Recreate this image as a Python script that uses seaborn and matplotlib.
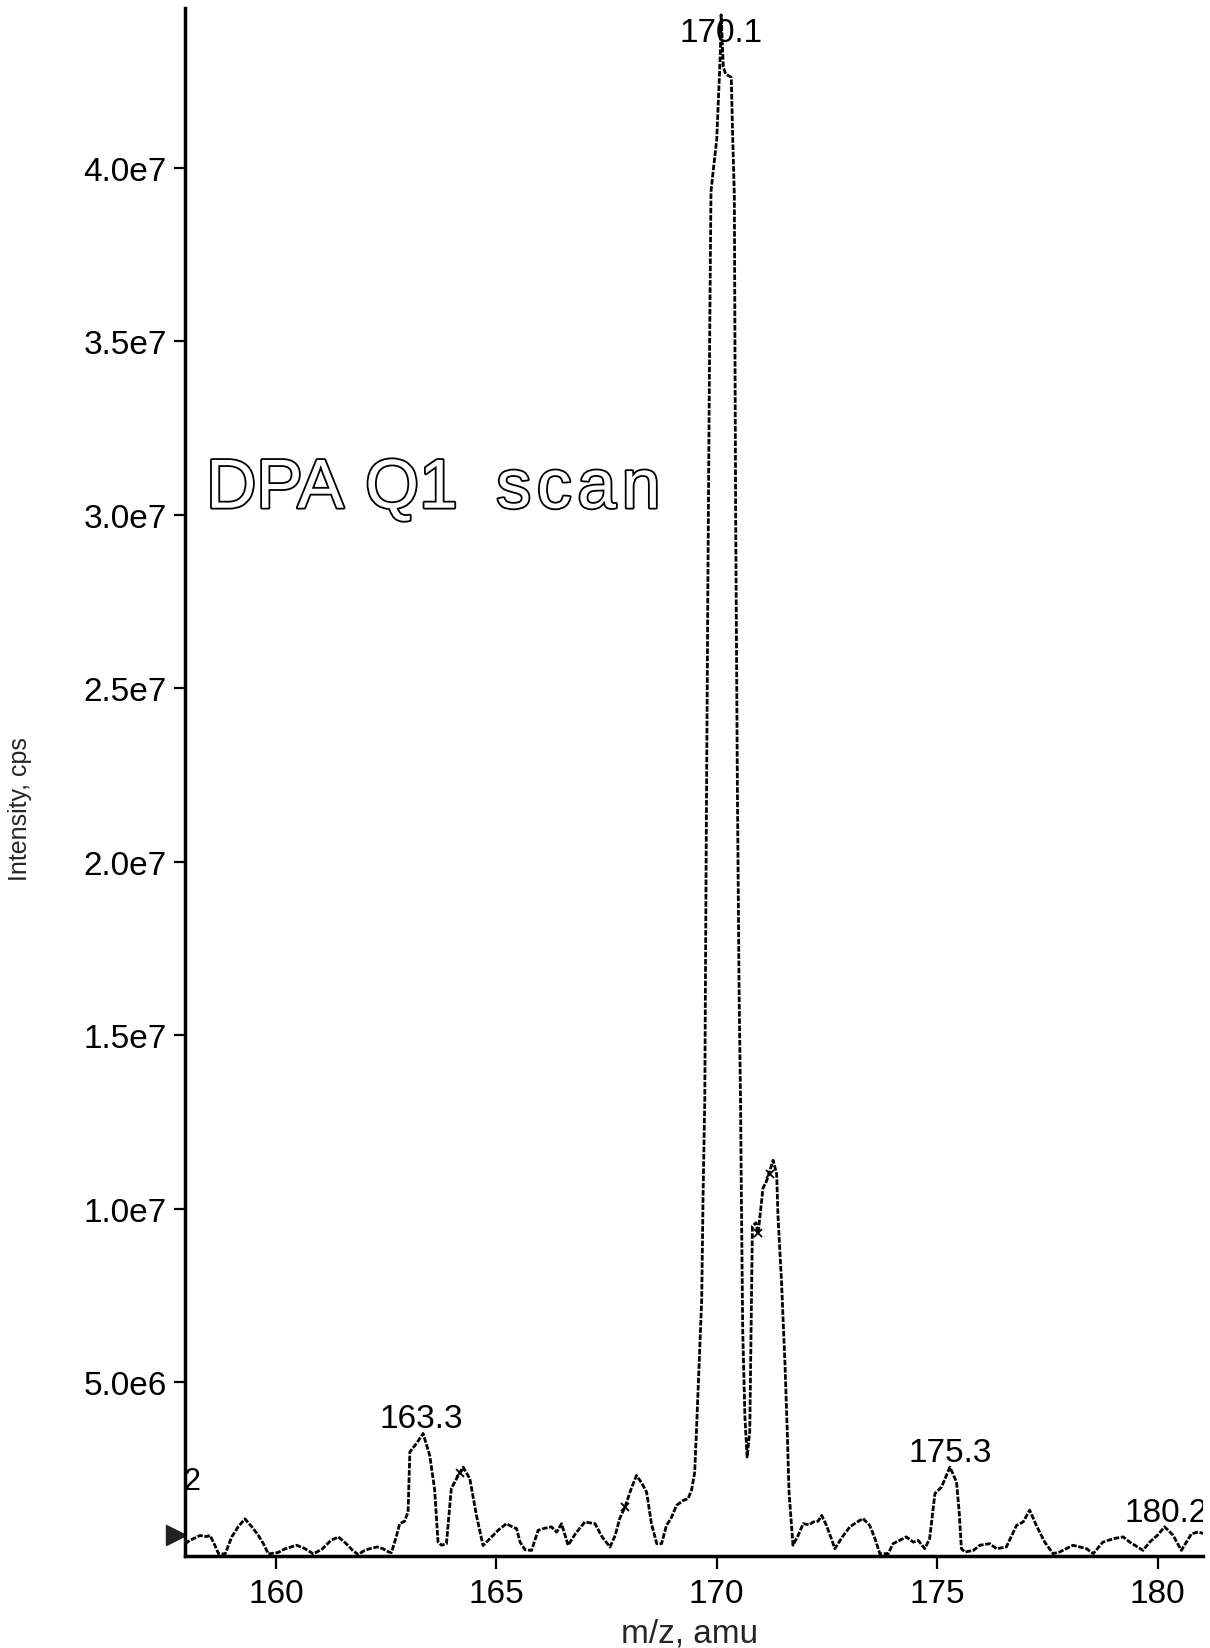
import matplotlib
matplotlib.use("Agg")
import matplotlib.pyplot as plt
import matplotlib.patheffects as pe
import seaborn as sns
import pandas as pd

# ---- data ----
mz = [157.94, 158.05, 158.28, 158.42, 158.51, 158.62, 158.70, 158.85, 159.00, 159.15,
      159.30, 159.45, 159.60, 159.72, 159.83, 160.05, 160.20, 160.47, 160.65, 160.85,
      161.05, 161.25, 161.42, 161.60, 161.75, 161.87, 162.00, 162.13, 162.30, 162.43,
      162.55, 162.62, 162.72, 162.81, 162.92, 163.00, 163.04, 163.19, 163.34, 163.49,
      163.60, 163.68, 163.76, 163.87, 163.98, 164.10, 164.17, 164.25, 164.32, 164.40,
      164.55, 164.70, 164.93, 165.05, 165.23, 165.35, 165.46, 165.54, 165.65, 165.80,
      165.95, 166.10, 166.25, 166.37, 166.48, 166.63, 166.80, 167.01, 167.15, 167.24,
      167.40, 167.58, 167.70, 167.80, 167.92, 168.05, 168.18, 168.30, 168.41, 168.52,
      168.64, 168.75, 168.86, 168.97, 169.09, 169.24, 169.35, 169.43, 169.50, 169.54,
      169.60, 169.66, 169.69, 169.73, 169.76, 169.80, 169.84, 169.87, 169.92, 170.00,
      170.04, 170.08, 170.10, 170.15, 170.20, 170.33, 170.36, 170.40, 170.43, 170.47,
      170.51, 170.54, 170.56, 170.59, 170.64, 170.69, 170.75, 170.79, 170.81, 170.89,
      170.94, 171.05, 171.13, 171.28, 171.36, 171.39, 171.47, 171.55, 171.60, 171.64,
      171.73, 171.85, 171.96, 172.10, 172.19, 172.30, 172.38, 172.49, 172.60, 172.68,
      172.85, 173.02, 173.15, 173.32, 173.47, 173.59, 173.70, 173.89, 174.00, 174.15,
      174.30, 174.46, 174.57, 174.72, 174.83, 174.95, 175.10, 175.29, 175.44, 175.50,
      175.55, 175.63, 175.82, 175.97, 176.19, 176.35, 176.57, 176.80, 176.95, 177.10,
      177.25, 177.44, 177.63, 177.78, 178.08, 178.39, 178.54, 178.76, 179.00, 179.22,
      179.37, 179.67, 179.82, 180.00, 180.16, 180.35, 180.54, 180.77, 180.92, 181.03]
intensity = [3.5e5, 4.5e5, 5.9e5, 5.6e5, 5.9e5, 3.0e5, 6.7e4, 6.0e4, 5.5e5, 8.5e5,
             1.07e6, 8.5e5, 6.0e5, 3.5e5, 6.0e4, 1.0e5, 2.0e5, 3.1e5, 2.2e5, 6.0e4,
             2.0e5, 4.5e5, 5.5e5, 3.5e5, 1.5e5, 4.0e4, 1.5e5, 2.1e5, 2.6e5, 2.1e5,
             1.2e5, 9.6e4, 5.0e5, 9.3e5, 1.0e6, 1.27e6, 3.0e6, 3.24e6, 3.53e6, 2.9e6,
             1.94e6, 4.0e5, 3.1e5, 3.55e5, 1.94e6, 2.23e6, 2.4e6, 2.56e6, 2.4e6, 2.23e6,
             1.17e6, 3.0e5, 5.96e5, 7.5e5, 9.3e5, 8.5e5, 7.9e5, 4.0e5, 1.8e5, 1.6e5,
             7.4e5, 8.0e5, 8.4e5, 6.9e5, 9.3e5, 3.1e5, 6.5e5, 9.8e5, 9.5e5, 9.3e5,
             5.5e5, 2.6e5, 6.0e5, 1.08e6, 1.41e6, 1.9e6, 2.32e6, 2.1e6, 1.84e6, 9.3e5,
             3.55e5, 3.55e5, 8.8e5, 1.1e6, 1.46e6, 1.6e6, 1.65e6, 1.9e6, 2.4e6, 3.57e6,
             5.5e6, 7.4e6, 1.03e7, 1.32e7, 2.0e7, 2.8e7, 3.5e7, 3.93e7, 3.99e7, 4.08e7,
             4.2e7, 4.32e7, 4.44e7, 4.29e7, 4.27e7, 4.26e7, 4.1e7, 3.92e7, 3.0e7, 2.2e7,
             1.6e7, 1.32e7, 1.03e7, 6.5e6, 4.0e6, 2.85e6, 3.6e6, 7.4e6, 9.5e6, 9.6e6,
             9.3e6, 1.06e7, 1.08e7, 1.14e7, 1.10e7, 9.8e6, 7.9e6, 5.5e6, 3.6e6, 1.85e6,
             3.1e5, 6.0e5, 9.3e5, 9.0e5, 9.8e5, 1.0e6, 1.17e6, 8.8e5, 5.0e5, 2.1e5,
             5.5e5, 8.4e5, 9.5e5, 1.08e6, 8.8e5, 5.0e5, 6.7e4, 6.7e4, 3.55e5, 4.5e5,
             5.5e5, 4.0e5, 4.5e5, 2.1e5, 5.0e5, 1.8e6, 1.99e6, 2.56e6, 2.13e6, 1.27e6,
             2.1e5, 1.15e5, 1.6e5, 3.1e5, 3.55e5, 2.1e5, 2.6e5, 8.8e5, 9.8e5, 1.32e6,
             8.8e5, 4.0e5, 6.7e4, 1.15e5, 3.1e5, 2.1e5, 6.7e4, 4.0e5, 5.0e5, 5.5e5,
             4.0e5, 1.6e5, 4.0e5, 6.0e5, 8.4e5, 6.0e5, 1.6e5, 6.4e5, 6.9e5, 6.5e5]

cross_mz = [164.17, 167.92, 170.94, 171.20]
cross_int = [2.4e6, 1.41e6, 9.3e6, 1.1e7]

peak_labels = ["163.3", "170.1", "175.3", "180.2"]
peak_label_x = [163.3, 170.1, 175.3, 180.2]
peak_label_y = [3.72e6, 4.366e7, 2.74e6, 1.01e6]

x_ticks = [160, 165, 170, 175, 180]
y_ticks = [5e6, 1e7, 1.5e7, 2e7, 2.5e7, 3e7, 3.5e7, 4e7]
y_ticklabels = ["5.0e6", "1.0e7", "1.5e7", "2.0e7", "2.5e7", "3.0e7", "3.5e7", "4.0e7"]

# title with slight letter spacing (hair spaces) as in the reference
title_text = "DPA \u200aQ1  s\u200ac\u200aa\u200an"
xlabel = "m/z, amu"
ylabel = "Intensity, cps"

# ---- style ----
sns.set_style("ticks")
plt.rcParams["font.family"] = ["Liberation Sans", "DejaVu Sans"]

fig = plt.figure(figsize=(12.1, 16.49), dpi=100)
ax = fig.add_axes([0.1529, 0.0558, 0.8413, 0.9388])

df = pd.DataFrame({"mz": mz, "intensity": intensity})
sns.lineplot(data=df, x="mz", y="intensity", ax=ax, color="black", linewidth=2.0,
             estimator=None, sort=False, linestyle=(0, (2.0, 0.6)))
ax.plot(cross_mz, cross_int, linestyle="none", marker="x", color="black",
        markersize=6, markeredgewidth=1.3)

ax.set_xlim(157.94, 181.03)
ax.set_ylim(0, 4.46e7)

for s in ["top", "right"]:
    ax.spines[s].set_visible(False)
for s in ["left", "bottom"]:
    ax.spines[s].set_linewidth(2.5)
    ax.spines[s].set_color("black")

ax.set_xticks(x_ticks)
ax.set_xticklabels([str(t) for t in x_ticks])
ax.set_yticks(y_ticks)
ax.set_yticklabels(y_ticklabels)
ax.tick_params(axis="x", direction="out", length=9.5, width=1.6, pad=6,
               labelsize=24, colors="black")
ax.tick_params(axis="y", direction="out", length=8, width=1.6, pad=5,
               labelsize=24, colors="black")

ax.set_xlabel(xlabel, fontsize=24)
ax.xaxis.label.set_va("center")
ax.xaxis.set_label_coords(0.496, -0.05)
ax.set_ylabel(ylabel, fontsize=18)
ax.yaxis.set_label_coords(-0.15, 0.483)

for lab, xx, yy in zip(peak_labels, peak_label_x, peak_label_y):
    ax.text(xx, yy, lab, ha="center", va="baseline", fontsize=24, color="black",
            clip_on=True, zorder=1)

ax.text(158.42, 3.02e7, title_text, ha="left", va="baseline", fontsize=50,
        color="white",
        path_effects=[pe.withStroke(linewidth=2.6, foreground="black")])

# scan marker at left of axis
ax.plot([157.74], [6.05e5], marker=">", color="#222222", markersize=15,
        clip_on=False, linestyle="none")
ax.text(157.90, 2.15e6, "2", ha="left", va="center", fontsize=22, color="black",
        zorder=1)

fig.savefig("out.png", dpi=100, facecolor="white")
